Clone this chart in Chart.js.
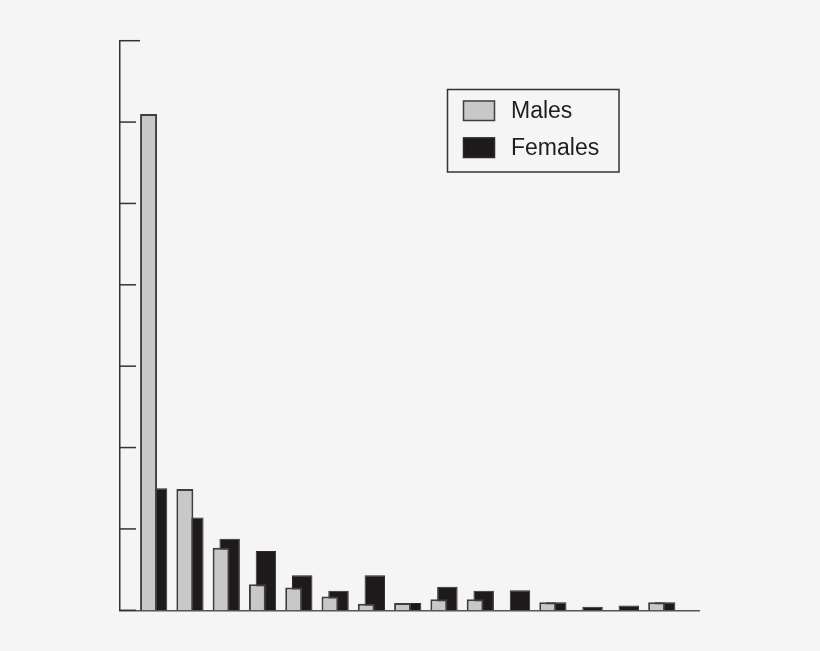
<!DOCTYPE html>
<html lang="en">
<head>
    <meta charset="UTF-8">
    <title>Males and Females</title>
    <script src="https://cdn.jsdelivr.net/npm/chart.js"></script>
    <style>
        html, body {
            margin: 0;
            padding: 0;
            background: #f5f5f5;
        }
        .chart-container {
            width: 820px;
            height: 651px;
        }
    </style>
</head>
<body>
    <div class="chart-container">
        <canvas id="chart"></canvas>
    </div>

    <script>
        // groups along the x axis (no labels are printed in the original)
        const categories = [1, 2, 3, 4, 5, 6, 7, 8, 9, 10, 11, 12, 13, 14, 15];
        const males   = [61, 14.9, 7.7, 3.2, 2.8, 1.7, 0.8, 0.9, 1.35, 1.35, 0, 1.0, 0, 0, 1.0];
        const females = [15, 11.4, 8.8, 7.3, 4.3, 2.4, 4.3, 0.9, 2.9, 2.4, 2.45, 1.0, 0.45, 0.6, 1.0];
        const yTicks  = [0, 10, 20, 30, 40, 50, 60, 70];

        const toPoints = values => categories.map((c, i) => ({ x: c, y: values[i] }));

        // short inward tick marks on the y axis
        const inwardTicks = {
            id: "inwardTicks",
            afterDraw(chart) {
                const ctx = chart.ctx;
                const yScale = chart.scales.y;
                const left = chart.chartArea.left;
                ctx.save();
                ctx.strokeStyle = "#333333";
                ctx.lineWidth = 1.5;
                yTicks.forEach(v => {
                    const y = yScale.getPixelForValue(v);
                    const len = v === yTicks[yTicks.length - 1] ? 20 : 16;
                    ctx.beginPath();
                    ctx.moveTo(left, y);
                    ctx.lineTo(left + len, y);
                    ctx.stroke();
                });
                ctx.restore();
            }
        };

        // boxed legend in the upper right
        const boxLegend = {
            id: "boxLegend",
            afterDraw(chart) {
                const ctx = chart.ctx;
                ctx.save();
                ctx.strokeStyle = "#333333";
                ctx.lineWidth = 1.5;
                ctx.strokeRect(447.5, 89.5, 171.5, 82.5);
                const rows = [100.5, 137.5];
                chart.data.datasets.forEach((ds, i) => {
                    ctx.fillStyle = ds.backgroundColor;
                    ctx.fillRect(463, rows[i], 32, 20.5);
                    ctx.strokeStyle = ds.borderColor;
                    ctx.lineWidth = 1.5;
                    ctx.strokeRect(463.5, rows[i] + 0.5, 31, 19.5);
                    ctx.fillStyle = "#1e1e1e";
                    ctx.font = "23px 'Liberation Sans', Arial, sans-serif";
                    ctx.textBaseline = "alphabetic";
                    ctx.fillText(ds.label, 511, rows[i] + 17.5);
                });
                ctx.restore();
            }
        };

        new Chart(document.getElementById("chart"), {
            type: "bar",
            data: {
                datasets: [{
                    label: "Males",
                    data: toPoints(males),
                    backgroundColor: "#c8c8c8",
                    borderColor: "#3e3e3e",
                    borderWidth: 2,
                    categoryPercentage: 0.468,
                    barPercentage: 2.0
                }, {
                    label: "Females",
                    data: toPoints(females),
                    backgroundColor: "#1e1a1b",
                    borderColor: "#2a2a2a",
                    borderWidth: 1,
                    categoryPercentage: 0.468,
                    barPercentage: 2.41
                }]
            },
            options: {
                responsive: true,
                maintainAspectRatio: false,
                animation: false,
                layout: {
                    padding: { left: 120, top: 40.7, right: 121, bottom: 40.7 }
                },
                scales: {
                    x: {
                        type: "linear",
                        min: 0.096,
                        max: 16.05,
                        offset: false,
                        ticks: { display: false },
                        grid: { display: false, drawTicks: false },
                        border: { display: true, color: "#555555", width: 1.5 }
                    },
                    y: {
                        min: 0,
                        max: 70,
                        ticks: { display: false, stepSize: 10 },
                        grid: { display: false, drawTicks: false },
                        border: { display: true, color: "#333333", width: 1.5 }
                    }
                },
                plugins: {
                    legend: { display: false },
                    tooltip: { enabled: false }
                }
            },
            plugins: [inwardTicks, boxLegend]
        });
    </script>
</body>
</html>
